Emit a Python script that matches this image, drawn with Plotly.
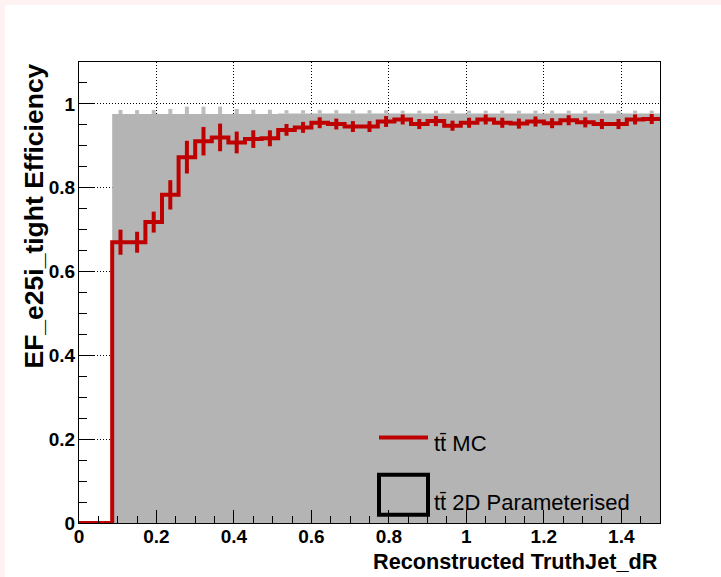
import numpy as np
import plotly.graph_objects as go

# ---- data ----
x_low, x_high, n_bins = 0.0, 1.5, 35
mc_eff = [0.0, 0.0, 0.670, 0.670, 0.718, 0.783, 0.873, 0.911, 0.920, 0.908,
          0.916, 0.918, 0.938, 0.944, 0.955, 0.952, 0.946, 0.946, 0.958, 0.963,
          0.952, 0.959, 0.948, 0.955, 0.963, 0.955, 0.953, 0.958, 0.954, 0.961,
          0.956, 0.952, 0.952, 0.963, 0.964]
mc_err = [0.0, 0.0, 0.030, 0.025, 0.025, 0.035, 0.039, 0.034, 0.033, 0.026,
          0.021, 0.019, 0.014, 0.013, 0.013, 0.013, 0.013, 0.013, 0.013, 0.012,
          0.012, 0.012, 0.012, 0.012, 0.012, 0.012, 0.012, 0.012, 0.012, 0.012,
          0.012, 0.012, 0.012, 0.012, 0.012]
param_eff = [0.0, 0.0, 0.976, 0.976, 0.976, 0.976, 0.976, 0.976, 0.976, 0.976,
             0.976, 0.976, 0.977, 0.977, 0.977, 0.977, 0.977, 0.977, 0.977, 0.977,
             0.977, 0.977, 0.977, 0.977, 0.977, 0.977, 0.977, 0.977, 0.977, 0.977,
             0.977, 0.977, 0.977, 0.977, 0.977]
param_err = [0.0, 0.0, 0.0095, 0.0095, 0.0095, 0.012, 0.0175, 0.0175, 0.0175, 0.012,
             0.010, 0.010, 0.008, 0.008, 0.008, 0.008, 0.008, 0.008, 0.008, 0.007,
             0.007, 0.007, 0.007, 0.007, 0.007, 0.007, 0.007, 0.007, 0.007, 0.007,
             0.007, 0.007, 0.007, 0.007, 0.007]
x_title = "Reconstructed TruthJet_dR"
y_title = "EF_e25i_tight Efficiency"
legend_mc = "tt\u0304 MC"
legend_param = "tt\u0304 2D Parameterised"

edges = np.linspace(x_low, x_high, n_bins + 1)
centers = 0.5 * (edges[:-1] + edges[1:])
mc = np.array(mc_eff)
pe = np.array(param_eff)
nz = pe > 0
first = int(np.argmax(nz))

RED = "#bf0000"
GREY = "#b4b4b4"
FONT = "Liberation Sans, Arial, sans-serif"

fig = go.Figure()
# grey parameterised histogram (filled step)
fig.add_trace(go.Scatter(
    x=edges[first:], y=list(pe[first:]) + [pe[-1]],
    mode="lines", line=dict(shape="hv", width=0, color=GREY),
    fill="tozeroy", fillcolor=GREY, hoverinfo="skip", showlegend=False))
# grey error bumps
fig.add_trace(go.Scatter(
    x=centers[nz], y=pe[nz], mode="markers", marker=dict(size=0.1, opacity=0),
    error_y=dict(type="data", symmetric=False, array=np.array(param_err)[nz],
                 arrayminus=np.zeros(nz.sum()), color="#bcbcbc", thickness=4, width=0),
    showlegend=False, hoverinfo="skip"))
# red MC step line
fig.add_trace(go.Scatter(
    x=edges, y=list(mc) + [mc[-1]], mode="lines",
    line=dict(shape="hv", width=4, color=RED), showlegend=False))
# red error bars
mz = mc > 0
fig.add_trace(go.Scatter(
    x=centers[mz], y=mc[mz], mode="markers", marker=dict(size=0.1, opacity=0),
    error_y=dict(type="data", array=np.array(mc_err)[mz], color=RED, thickness=4, width=0),
    showlegend=False))

# plot-area geometry (pixels) for paper conversions
L, R, T, B = 79, 61, 62, 54
W, H = 721, 577
pw, ph = W - L - R, H - T - B
def px(xp):
    return (xp - L) / pw
def py(yp):
    return (H - B - yp) / ph

shapes = [
    # white canvas inside pink page border
    dict(type="rect", xref="paper", yref="paper", x0=px(5), x1=px(W + 5),
         y0=py(H + 5), y1=py(5), fillcolor="white", line=dict(width=0), layer="below"),
    # legend samples
    dict(type="line", xref="paper", yref="paper", x0=px(379), x1=px(428),
         y0=py(437.5), y1=py(437.5), line=dict(color=RED, width=4)),
    dict(type="rect", xref="paper", yref="paper", x0=px(379), x1=px(428),
         y0=py(514.7), y1=py(474.7), line=dict(color="black", width=4)),
]
annotations = [
    dict(text=legend_mc, xref="paper", yref="paper", x=px(432), y=py(444),
         xanchor="left", yanchor="middle", showarrow=False,
         font=dict(family=FONT, size=22, color="black")),
    dict(text=legend_param, xref="paper", yref="paper", x=px(432), y=py(502),
         xanchor="left", yanchor="middle", showarrow=False,
         font=dict(family=FONT, size=22, color="black")),
    dict(text=x_title, xref="paper", yref="paper", x=1.0, y=py(561),
         xanchor="right", yanchor="middle", showarrow=False,
         font=dict(family=FONT, size=21.7, color="black", weight="bold")),
    dict(text=y_title, xref="paper", yref="paper", x=px(33), y=1.0, textangle=-90,
         xanchor="center", yanchor="top", showarrow=False,
         font=dict(family=FONT, size=26.5, color="black", weight="bold")),
]

axis_common = dict(
    showline=True, linecolor="black", linewidth=1, mirror=True,
    ticks="inside", tickcolor="black", tickwidth=1,
    showgrid=True, gridcolor="black", gridwidth=1, griddash="1px,2px",
    zeroline=False, dtick=0.2, tick0=0,
    tickfont=dict(family=FONT, size=19, color="black", weight="bold"),
)
fig.update_xaxes(range=[x_low, x_high], ticklen=13, ticklabelstandoff=-4,
                 minor=dict(dtick=0.05, tick0=0, ticks="inside", ticklen=7,
                            tickcolor="black", tickwidth=1, showgrid=False),
                 **axis_common)
fig.update_yaxes(range=[0, 1.1], ticklen=16, ticklabelstandoff=-1,
                 minor=dict(dtick=0.05, tick0=0, ticks="inside", ticklen=8,
                            tickcolor="black", tickwidth=1, showgrid=False),
                 **axis_common)
fig.update_layout(
    width=W, height=H, margin=dict(l=L, r=R, t=T, b=B, autoexpand=False),
    paper_bgcolor="#fff2f2", plot_bgcolor="white",
    shapes=shapes, annotations=annotations, showlegend=False,
)
fig.write_html("out.html")
